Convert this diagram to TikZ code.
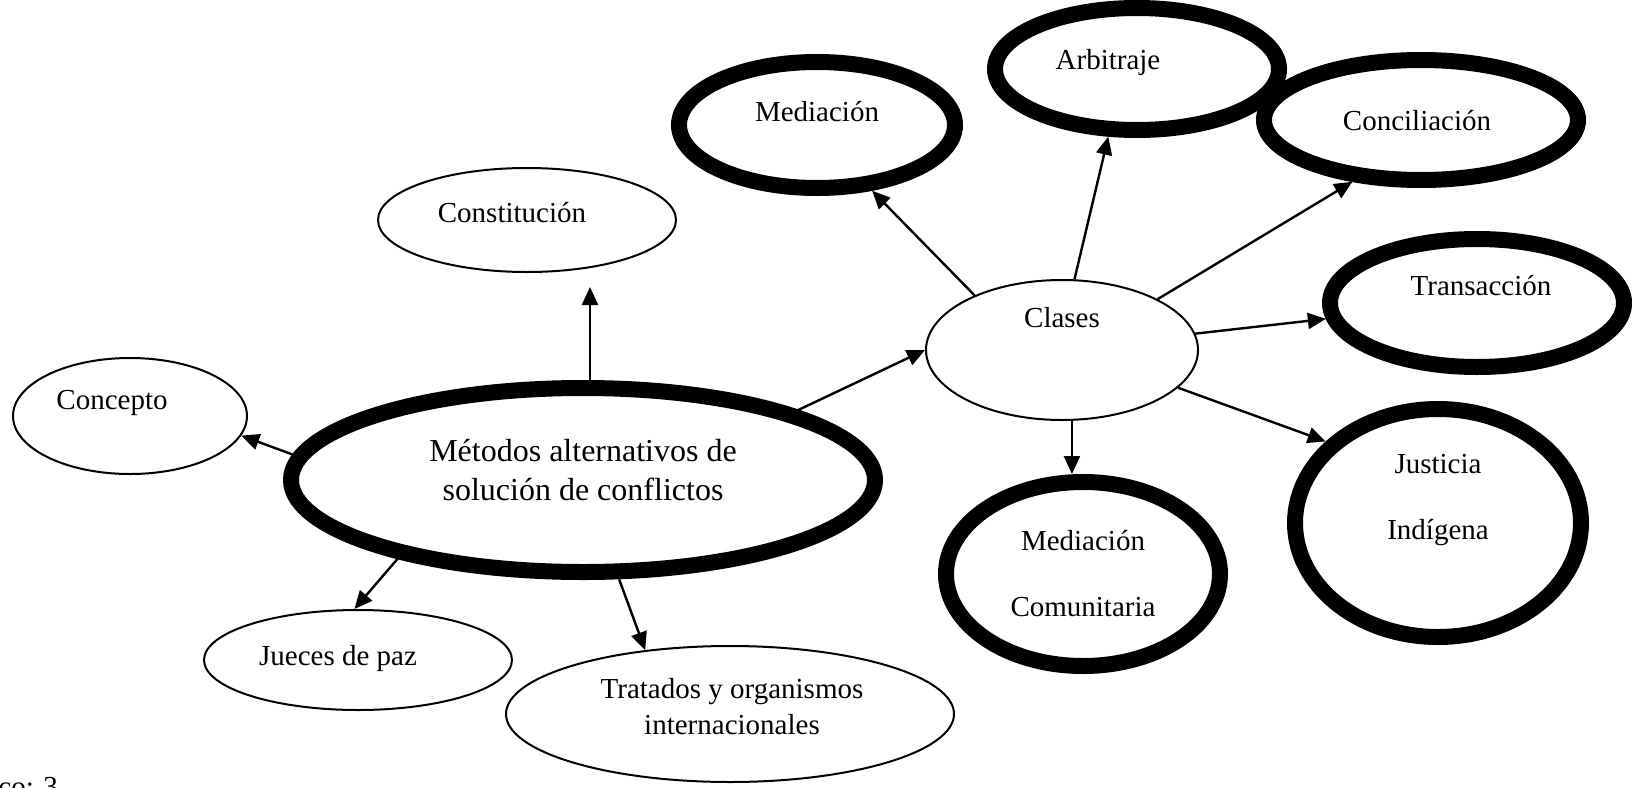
\documentclass[tikz,border=0pt]{standalone}
\usepackage{fontspec}
\setmainfont{Liberation Serif}
\usetikzlibrary{arrows.meta,shapes.geometric}
\begin{document}
\begin{tikzpicture}[x=0.5pt,y=-0.5pt,
  thinell/.style={ellipse,draw,line width=1pt,inner sep=0pt},
  thickell/.style={ellipse,draw,line width=8pt,inner sep=0pt},
  lbl/.style={font=\fontsize{14.5}{17}\selectfont,inner sep=0pt,align=center},
  arr/.style={line width=1.2pt,-{Triangle[length=9pt,width=8pt]}}]
\useasboundingbox (0,0) rectangle (1632,787);
% ellipses
\node[thinell,minimum width=117pt,minimum height=58pt] (concepto) at (130,416) {};
\node[thickell,minimum width=292pt,minimum height=92pt] (main) at (583,480) {};
\node[thinell,minimum width=149pt,minimum height=52pt] (constit) at (527,220) {};
\node[thinell,minimum width=154pt,minimum height=50pt] (jueces) at (358,660) {};
\node[thinell,minimum width=224pt,minimum height=68pt] (tratados) at (730,714) {};
\node[thinell,minimum width=136pt,minimum height=70pt] (clases) at (1062,350) {};
\node[thickell,minimum width=138pt,minimum height=63pt] (mediacion) at (817,125) {};
\node[thickell,minimum width=142pt,minimum height=61pt] (arbitraje) at (1137,69) {};
\node[thickell,minimum width=157pt,minimum height=60pt] (concil) at (1421,120) {};
\node[thickell,minimum width=147pt,minimum height=64pt] (trans) at (1477,303) {};
\node[thickell,minimum width=137pt,minimum height=92pt] (medcom) at (1083,574) {};
\node[thickell,minimum width=143pt,minimum height=114pt] (justicia) at (1438,523) {};
% texts
\node[lbl] (tconcepto) at (112,403) {Concepto};
\node[lbl,font=\fontsize{16}{19.5}\selectfont] (tmain) at (583,470) {Métodos alternativos de\\solución de conflictos};
\node[lbl] (tconstit) at (512,213) {Constitución};
\node[lbl] (tjueces) at (338,659) {Jueces de paz};
\node[lbl,font=\fontsize{14.5}{18}\selectfont] (ttratados) at (732,707) {Tratados y organismos\\internacionales};
\node[lbl] (tclases) at (1062,318) {Clases};
\node[lbl] (tmediacion) at (817,112) {Mediación};
\node[lbl] (tarbitraje) at (1108,63) {Arbitraje};
\node[lbl] (tconcil) at (1417,121) {Conciliación};
\node[lbl] (ttrans) at (1481,286) {Transacción};
\node[lbl,font=\fontsize{14.5}{33}\selectfont] (tmedcom) at (1083,574) {Mediación\\Comunitaria};
\node[lbl,font=\fontsize{14.5}{33}\selectfont] (tjusticia) at (1438,500) {Justicia\\Indígena};
\node[lbl,anchor=north west] (fig) at (-2,777) {co: 3};
% arrows
\draw[arr] (main.175.7) -- (concepto.-10.9);
\draw[arr,shorten >=7pt] (main.86) -- (main.86 |- constit.south);
\draw[arr] (main.18) -- (clases.180);
\draw[arr] (main.203.5) -- (jueces.94.2);
\draw[arr] (main.-70.7) -- (tratados.143.3);
\draw[arr] (clases.148.2) -- (mediacion.-50.1);
\draw[arr] (clases.80.4) -- (arbitraje.-113.4);
\draw[arr] (clases.28.4) -- (concil.-138.6);
\draw[arr] (clases.7.9) -- (trans.186.6);
\draw[arr] (clases.-18.7) -- (justicia.144.1);
\draw[arr] (clases.-82) -- (clases.-82 |- medcom.north);
\end{tikzpicture}
\end{document}
